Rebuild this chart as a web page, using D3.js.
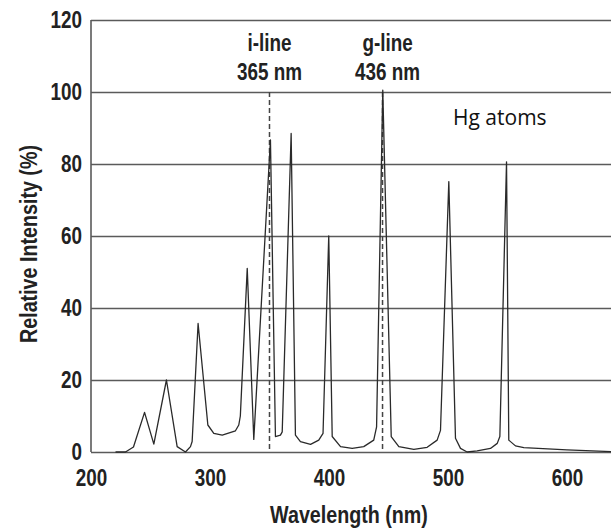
<!DOCTYPE html>
<html>
<head>
<meta charset="utf-8">
<script src="https://cdn.jsdelivr.net/npm/d3@7"></script>
<style>
  body { margin: 0; background: #ffffff; }
  .bold { font-family: "Liberation Sans", Arial, sans-serif; font-weight: bold; fill: #222; }
  .grid line { stroke: #5a5a5a; stroke-width: 1.6; }
  .spectrum { fill: none; stroke: #2a2a2a; stroke-width: 1.3; stroke-linejoin: round; }
  .marker { stroke: #444; stroke-width: 1.5; stroke-dasharray: 5 3; }
  .note { font-family: "Open Sans", "Noto Sans", sans-serif; font-size: 21px; fill: #111; }
</style>
</head>
<body>
<div id="vis"></div>
<script>
// spectrum
var wavelengths = [220.6, 229, 235.7, 245, 252.8, 263.4, 272.4, 279.4, 283.6, 285, 290, 298.2, 303.2, 310.3, 321.4, 324.2, 325.5,
    331.3, 336.8, 350.8, 355, 359.2, 360.7, 368.2, 371.8, 376, 384.5, 391.4, 395, 399.8, 402.7, 409.7, 419.5, 429.2,
    437.6, 440, 445.2, 452.3, 458.7, 471.3, 482.5, 490.9, 493.7, 500.7, 506.3, 510.5, 516.1, 524.5, 535.7, 541.4,
    543.6, 549.2, 551.1, 556.7, 563.7, 600, 637];
var intensities = [0, 0, 1.4, 11, 2.2, 20, 1.5, 0, 1.5, 2.9, 35.7, 7.5, 5.2, 4.7, 5.9, 7.5, 10,
    51, 3.5, 86.7, 4.3, 4.7, 5.6, 88.5, 4.7, 2.9, 2.1, 3.3, 5.2, 60, 4.3, 1.5, 1.0, 1.5,
    3.3, 7, 100.5, 4.3, 1.5, 0.7, 1.3, 3.3, 6, 75.1, 3.8, 1, 0, 0.3, 1, 2.4,
    4.3, 80.6, 3.3, 1.7, 1.2, 0.6, 0.1];

var yTicks = [0, 20, 40, 60, 80, 100, 120];
var xTicks = [200, 300, 400, 500, 600];

var markerNames = ["i-line", "g-line"];
var markerLabels = ["365 nm", "436 nm"];
var markerPositions = [350, 445];

var width = 611, height = 529;

var svg = d3.select("#vis")
    .append("svg")
    .attr("width", width)
    .attr("height", height);

var x = d3.scaleLinear().domain([200, 637]).range([91, 611]);
var y = d3.scaleLinear().domain([0, 120]).range([452, 20]);

// horizontal grid lines
var grid = svg.append("g")
    .attr("class", "grid")
    .attr("transform", "translate(91,0)")
    .call(d3.axisLeft(y).tickValues(yTicks).tickSize(-(611 - 91)).tickFormat(""));
grid.select(".domain").remove();

// left axis line
svg.append("line")
    .attr("x1", 91).attr("x2", 91)
    .attr("y1", y(120)).attr("y2", y(0))
    .attr("stroke", "#5a5a5a")
    .attr("stroke-width", 1.6);

// y tick labels
var yAxis = svg.append("g")
    .attr("transform", "translate(82,0)")
    .call(d3.axisLeft(y).tickValues(yTicks).tickSize(0).tickPadding(0));
yAxis.select(".domain").remove();
yAxis.selectAll("text")
    .attr("class", "bold")
    .style("font-size", "23px");

// x tick labels
var xAxis = svg.append("g")
    .attr("transform", "translate(0," + 470 + ")")
    .call(d3.axisBottom(x).tickValues(xTicks).tickSize(0).tickPadding(0));
xAxis.select(".domain").remove();
xAxis.selectAll("text")
    .attr("class", "bold")
    .style("font-size", "23px");

// dashed marker lines
svg.selectAll(".marker")
    .data(markerPositions)
    .enter()
    .append("line")
    .attr("class", "marker")
    .attr("x1", function(d) { return x(d); })
    .attr("x2", function(d) { return x(d); })
    .attr("y1", y(100))
    .attr("y2", y(0));

var line = d3.line()
    .x(function(d, i) { return x(wavelengths[i]); })
    .y(function(d) { return y(d); });

svg.append("path")
    .datum(intensities)
    .attr("class", "spectrum")
    .attr("d", line);

// marker labels
svg.selectAll(".mname")
    .data(markerNames)
    .enter()
    .append("text")
    .attr("class", "bold")
    .attr("text-anchor", "middle")
    .attr("x", function(d, i) { return x(markerPositions[i]) + (i === 1 ? 5 : 0); })
    .attr("y", 51)
    .style("font-size", "23px")
    .text(function(d) { return d; });

svg.selectAll(".mlabel")
    .data(markerLabels)
    .enter()
    .append("text")
    .attr("class", "bold")
    .attr("text-anchor", "middle")
    .attr("x", function(d, i) { return x(markerPositions[i]) + (i === 1 ? 5 : 0); })
    .attr("y", 80)
    .style("font-size", "23px")
    .text(function(d) { return d; });

svg.append("text")
    .attr("class", "note")
    .attr("x", 453)
    .attr("y", 125)
    .text("Hg atoms");

// axis titles
svg.append("text")
    .attr("class", "bold")
    .attr("text-anchor", "middle")
    .attr("x", 349)
    .attr("y", 523)
    .style("font-size", "24px")
    .text("Wavelength (nm)");

svg.append("text")
    .attr("class", "bold")
    .attr("text-anchor", "middle")
    .attr("transform", "translate(37,244) rotate(-90)")
    .style("font-size", "24px")
    .text("Relative Intensity (%)");

// no narrow font installed, so squeeze the bold labels like a condensed face
svg.selectAll("text.bold").each(function() {
    var len = this.getComputedTextLength();
    d3.select(this)
        .attr("textLength", len * 0.82)
        .attr("lengthAdjust", "spacingAndGlyphs");
});
</script>
</body>
</html>
